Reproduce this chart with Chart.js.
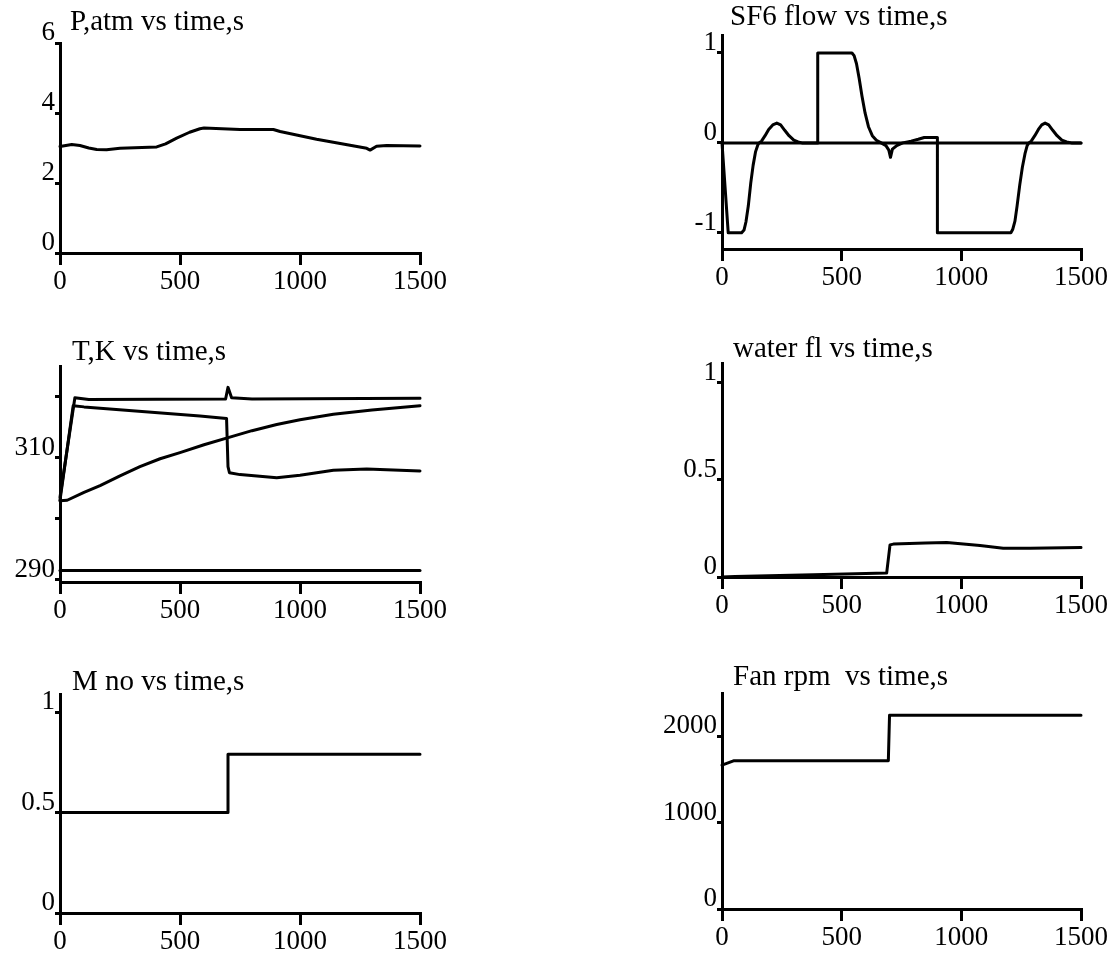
<!DOCTYPE html>
<html><head><meta charset="utf-8">
<script src="https://cdn.jsdelivr.net/npm/chart.js@4.4.1/dist/chart.umd.min.js"></script>
<style>
html,body{margin:0;padding:0;background:#fff;width:1116px;height:963px;overflow:hidden;position:relative}
canvas{position:absolute}
</style></head><body>
<canvas id="c1"></canvas><canvas id="c2"></canvas><canvas id="c3"></canvas>
<canvas id="c4"></canvas><canvas id="c5"></canvas><canvas id="c6"></canvas>
<script>
// ---------- data ----------
const xTicks = [0, 500, 1000, 1500];

// P, atm
const pTime  = [0, 49, 83, 120, 153, 194, 250, 403, 440, 486, 540, 583, 600, 750, 889, 917, 1069, 1278, 1292, 1319, 1361, 1500];
const pValue = [3.04, 3.1, 3.07, 3.0, 2.96, 2.95, 2.99, 3.03, 3.12, 3.28, 3.45, 3.55, 3.57, 3.53, 3.53, 3.47, 3.25, 2.99, 2.94, 3.05, 3.07, 3.06];
const pTicks = [0, 2, 4, 6];

// SF6 flow
const sfTime  = [0, 26, 82, 92, 100, 110, 120, 130, 140, 150, 155,
                 165, 180, 195, 212, 229, 245, 262, 280, 300, 318, 334,
                 400, 400, 543, 552, 562, 573, 585, 598, 612, 628, 645, 665,
                 685, 697, 704, 712, 730, 755,
                 790, 820, 845, 900, 900,
                 1207, 1215, 1224, 1233, 1244, 1255, 1266, 1275, 1282,
                 1292, 1307, 1322, 1336, 1350, 1365, 1382, 1400, 1420, 1440, 1460, 1500];
const sfValue = [0, -1, -1, -0.97, -0.88, -0.7, -0.45, -0.25, -0.1, -0.02, 0,
                 0.02, 0.08, 0.15, 0.2, 0.22, 0.2, 0.14, 0.08, 0.03, 0.01, 0,
                 0, 1, 1, 0.97, 0.88, 0.72, 0.52, 0.33, 0.18, 0.08, 0.03, 0,
                 -0.03, -0.08, -0.16, -0.07, -0.03, 0,
                 0.02, 0.04, 0.06, 0.06, -1,
                 -1, -0.96, -0.87, -0.7, -0.47, -0.27, -0.12, -0.03, 0,
                 0.02, 0.08, 0.15, 0.2, 0.22, 0.2, 0.14, 0.08, 0.03, 0.01, 0, 0];
const sfZeroTime = [0, 1500];
const sfZeroValue = [0, 0];
const sfTicks = [-1, 0, 1];

// T, K (four temperatures)
const tATime  = [0, 62, 120, 690, 700, 715, 800, 1500];
const tAValue = [303.5, 319.8, 319.5, 319.6, 321.5, 319.8, 319.6, 319.7];
const tBTime  = [0, 55, 100, 583, 694, 700, 706, 750, 903, 1000, 1139, 1278, 1500];
const tBValue = [303, 318.5, 318.3, 316.8, 316.4, 308.5, 307.5, 307.2, 306.7, 307.1, 307.9, 308.1, 307.8];
const tCTime  = [0, 30, 100, 167, 250, 333, 417, 500, 600, 722, 800, 903, 1000, 1139, 1300, 1500];
const tCValue = [302.9, 303.0, 304.3, 305.4, 307.0, 308.5, 309.8, 310.8, 312.1, 313.5, 314.4, 315.4, 316.2, 317.1, 317.8, 318.5];
const tDTime  = [0, 1500];
const tDValue = [291.5, 291.5];
const tTicks = [290, 300, 310, 320];
const tLabels = [290, 310];

// water flow
const wTime  = [0, 54, 382, 688, 702, 716, 850, 939, 1078, 1175, 1287, 1500];
const wValue = [0, 0.003, 0.012, 0.02, 0.165, 0.169, 0.175, 0.177, 0.162, 0.148, 0.148, 0.152];
const wTicks = [0, 0.5, 1];

// M no
const mTime  = [0, 700, 700, 1500];
const mValue = [0.5, 0.5, 0.79, 0.79];
const mTicks = [0, 0.5, 1];

// Fan rpm
const fTime  = [0, 48, 695, 700, 1500];
const fValue = [1665, 1715, 1715, 2242, 2242];
const fTicks = [0, 1000, 2000];

// ---------- drawing ----------
const FONT = "'Liberation Serif','Times New Roman',serif";

const titlePlugin = {
  id: 'panelTitle',
  afterDraw(chart, args, opts) {
    const ctx = chart.ctx;
    ctx.save();
    ctx.font = "29px " + FONT;
    ctx.fillStyle = '#000';
    ctx.textBaseline = 'alphabetic';
    ctx.textAlign = 'left';
    ctx.fillText(opts.text, opts.x, opts.y);
    ctx.restore();
  }
};

function series(ts, vs) {
  return {
    data: ts.map((t, i) => ({x: t, y: vs[i]})),
    borderColor: '#000', borderWidth: 3, pointRadius: 0, fill: false,
    tension: 0, clip: false, borderJoinStyle: 'round', borderCapStyle: 'round'
  };
}

function makePanel(id, box, area, yMin, yMax, yTickVals, yLabelVals, datasets, title, titlePos) {
  const cv = document.getElementById(id);
  cv.width = box.w; cv.height = box.h;
  cv.style.left = box.x + 'px'; cv.style.top = box.y + 'px';
  const XH = 45;
  const yW = area.l - box.x;
  new Chart(cv, {
    type: 'line',
    data: {datasets},
    options: {
      responsive: false, animation: false, devicePixelRatio: 1,
      layout: {padding: {left: 0, top: area.t - box.y, right: box.x + box.w - area.r, bottom: box.y + box.h - XH - area.b}},
      plugins: {
        legend: {display: false}, tooltip: {enabled: false},
        panelTitle: {text: title, x: titlePos.x - box.x, y: titlePos.y - box.y}
      },
      scales: {
        x: {
          type: 'linear', min: 0, max: 1500,
          afterBuildTicks: s => { s.ticks = xTicks.map(v => ({value: v})); },
          afterFit: s => { s.height = XH; s.paddingLeft = 0; s.paddingRight = 0; },
          grid: {display: true, drawOnChartArea: false, drawTicks: true, tickLength: 12, lineWidth: 3, color: '#000'},
          border: {display: true, width: 3, color: '#000'},
          ticks: {color: '#000', font: {family: FONT, size: 27}, padding: 1, maxRotation: 0, autoSkip: false,
                  callback: v => String(v)}
        },
        y: {
          type: 'linear', min: yMin, max: yMax,
          afterBuildTicks: s => { s.ticks = yTickVals.map(v => ({value: v})); },
          afterFit: s => { s.width = yW; s.paddingTop = 0; s.paddingBottom = 0; },
          grid: {display: true, drawOnChartArea: false, drawTicks: true, tickLength: 5, lineWidth: 3, color: '#000'},
          border: {display: true, width: 3, color: '#000'},
          ticks: {color: '#000', font: {family: FONT, size: 27}, padding: 0, labelOffset: -10, autoSkip: false,
                  callback: v => yLabelVals.includes(v) ? String(v) : ''}
        }
      }
    },
    plugins: [titlePlugin]
  });
}

const LB = {x: 0, w: 470}, RB = {x: 660, w: 456};
const rows = [{y: 0, h: 310}, {y: 320, h: 310}, {y: 650, h: 313}];

makePanel('c1', {x: LB.x, w: LB.w, y: rows[0].y, h: rows[0].h}, {l: 60, r: 420, t: 43, b: 253},
  0, 6, pTicks, pTicks, [series(pTime, pValue)], 'P,atm vs time,s', {x: 70, y: 30});

makePanel('c2', {x: RB.x, w: RB.w, y: rows[0].y, h: rows[0].h}, {l: 722, r: 1081, t: 35, b: 249},
  -1.18, 1.2, sfTicks, sfTicks, [series(sfZeroTime, sfZeroValue), series(sfTime, sfValue)], 'SF6 flow vs time,s', {x: 730, y: 25});

makePanel('c3', {x: LB.x, w: LB.w, y: rows[1].y, h: rows[1].h}, {l: 60, r: 420, t: 366, b: 582},
  289.6, 325, tTicks, tLabels, [series(tATime, tAValue), series(tBTime, tBValue), series(tCTime, tCValue), series(tDTime, tDValue)], 'T,K vs time,s', {x: 72, y: 360});

makePanel('c4', {x: RB.x, w: RB.w, y: rows[1].y, h: rows[1].h}, {l: 722, r: 1081, t: 363, b: 577},
  0, 1.1, wTicks, wTicks, [series(wTime, wValue)], 'water fl vs time,s', {x: 733, y: 357});

makePanel('c5', {x: LB.x, w: LB.w, y: rows[2].y, h: rows[2].h}, {l: 60, r: 420, t: 694, b: 913},
  0, 1.09, mTicks, mTicks, [series(mTime, mValue)], 'M no vs time,s', {x: 72, y: 690});

makePanel('c6', {x: RB.x, w: RB.w, y: rows[2].y, h: rows[2].h}, {l: 722, r: 1081, t: 693, b: 909},
  0, 2500, fTicks, fTicks, [series(fTime, fValue)], 'Fan rpm  vs time,s', {x: 733, y: 685});
</script>
</body></html>
